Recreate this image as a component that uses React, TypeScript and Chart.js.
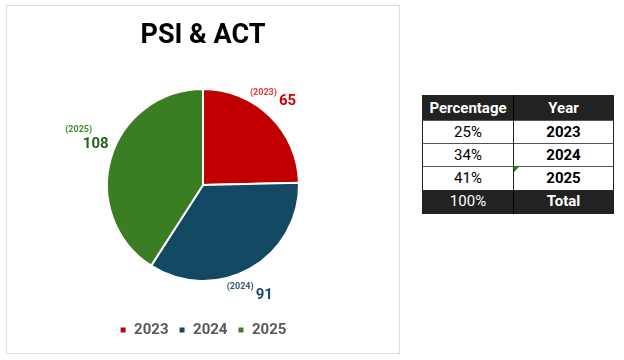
import React, { useEffect, useRef } from "react";
import { Chart, registerables } from "chart.js";

Chart.register(...registerables);

const years = ["2023", "2024", "2025"];
const values = [65, 91, 108];
const percentages = ["25%", "34%", "41%"];
const totalPercent = "100%";
const totalLabel = "Total";
const sliceColors = ["#C00000", "#124862", "#3B7D23"];
const yearLabelColors = ["#E23A3A", "#2E5C78", "#3F8A2A"];
const valueLabelColors = ["#D00000", "#1B4D6A", "#24601C"];

const FONT = "Roboto, 'Liberation Sans', Arial, sans-serif";

const labelPlugin = {
  id: "sliceLabels",
  afterDatasetsDraw(chart: any, _args: any, opts: any) {
    const ctx = chart.ctx;
    const meta = chart.getDatasetMeta(0);
    meta.data.forEach((arc: any, i: number) => {
      const p = arc.getProps(["x", "y", "startAngle", "endAngle", "outerRadius"], true);
      const mid = (p.startAngle + p.endAngle) / 2;
      const d = p.outerRadius + opts.gap;
      const off = opts.offsets[i];
      const ax = p.x + Math.cos(mid) * d + off[0];
      const ay = p.y + Math.sin(mid) * d + off[1];
      const yearTxt = "(" + chart.data.labels[i] + ")";
      const valTxt = String(chart.data.datasets[0].data[i]);
      ctx.save();
      ctx.textBaseline = "middle";
      ctx.font = "bold 9px " + FONT;
      const yw = ctx.measureText(yearTxt).width;
      ctx.font = "bold 15px " + FONT;
      const vw = ctx.measureText(valTxt).width;
      if (opts.layouts[i] === "stacked") {
        ctx.textAlign = "center";
        ctx.font = "bold 9px " + FONT;
        ctx.fillStyle = yearLabelColors[i];
        ctx.fillText(yearTxt, ax - 8, ay - 7);
        ctx.font = "bold 15px " + FONT;
        ctx.fillStyle = valueLabelColors[i];
        ctx.fillText(valTxt, ax + 9, ay + 8);
      } else {
        const w = yw + 2 + vw;
        const x0 = ax - w / 2;
        ctx.textAlign = "left";
        ctx.font = "bold 9px " + FONT;
        ctx.fillStyle = yearLabelColors[i];
        ctx.fillText(yearTxt, x0, ay - 4);
        ctx.font = "bold 15px " + FONT;
        ctx.fillStyle = valueLabelColors[i];
        ctx.fillText(valTxt, x0 + yw + 2, ay + 4);
      }
      ctx.restore();
    });
  },
};

function PieChart() {
  const ref = useRef<HTMLCanvasElement>(null);
  useEffect(() => {
    if (!ref.current) return;
    const chart = new Chart(ref.current, {
      type: "pie",
      data: {
        labels: years,
        datasets: [
          {
            data: values,
            backgroundColor: sliceColors,
            borderColor: "#ffffff",
            borderWidth: 2,
            radius: 96,
          } as any,
        ],
      },
      options: {
        animation: false,
        responsive: false,
        maintainAspectRatio: false,
        layout: { padding: { top: 0, bottom: 5.5, left: 0, right: 0 } },
        plugins: {
          title: {
            display: true,
            text: "PSI & ACT",
            color: "#000000",
            font: { family: FONT, size: 27, weight: "bold", lineHeight: 1.2 },
            padding: { top: 14.5, bottom: 4.5 },
          },
          legend: {
            display: true,
            position: "bottom",
            labels: {
              color: "#595959",
              font: { family: FONT, size: 15, weight: "bold" },
              boxWidth: 7,
              boxHeight: 7,
              padding: 10,
              usePointStyle: false,
            },
          },
          tooltip: { enabled: false },
          sliceLabels: {
            gap: 20,
            offsets: [
              [-11, -5],
              [-10, 5],
              [-5, -16],
            ],
            layouts: ["inline", "inline", "stacked"],
          },
        } as any,
      },
      plugins: [labelPlugin],
    });
    return () => chart.destroy();
  }, []);
  return <canvas ref={ref} width={392} height={347} style={{ display: "block" }} />;
}

const cellBase: React.CSSProperties = {
  fontFamily: FONT,
  fontSize: 15,
  textAlign: "center",
  padding: 0,
  lineHeight: "20px",
};

export default function App() {
  const darkRow: React.CSSProperties = { background: "#222222", color: "#ffffff" };
  return (
    <div style={{ position: "relative", width: 624, height: 360, margin: 0, background: "#fff" }}>
      <style>{"body{margin:0;background:#fff}"}</style>
      <div
        style={{
          position: "absolute",
          left: 6,
          top: 5,
          width: 394,
          height: 349,
          boxSizing: "border-box",
          border: "1px solid #dcdcdc",
          overflow: "hidden",
        }}
      >
        <PieChart />
      </div>
      <table
        style={{
          position: "absolute",
          left: 422,
          top: 95,
          width: 191,
          borderCollapse: "collapse",
          border: "1px solid #222",
          tableLayout: "fixed",
        }}
      >
        <colgroup>
          <col style={{ width: 91 }} />
          <col style={{ width: 100 }} />
        </colgroup>
        <tbody>
          <tr style={{ ...darkRow, height: 25 }}>
            <td style={{ ...cellBase, fontWeight: "bold", borderRight: "1px solid #000" }}>Percentage</td>
            <td style={{ ...cellBase, fontWeight: "bold" }}>Year</td>
          </tr>
          {years.map((y, i) => (
            <tr key={y} style={{ height: 23, background: "#fff", color: "#000" }}>
              <td style={{ ...cellBase, borderTop: "1px solid #555", borderRight: "1px solid #222" }}>
                {percentages[i]}
              </td>
              <td style={{ ...cellBase, fontWeight: "bold", borderTop: "1px solid #555", position: "relative" }}>
                {i === 2 && (
                  <span
                    style={{
                      position: "absolute",
                      left: 0,
                      top: 0,
                      width: 0,
                      height: 0,
                      borderTop: "5px solid #1a8a1a",
                      borderRight: "5px solid transparent",
                    }}
                  />
                )}
                {y}
              </td>
            </tr>
          ))}
          <tr style={{ ...darkRow, height: 24 }}>
            <td style={{ ...cellBase, borderRight: "1px solid #000" }}>{totalPercent}</td>
            <td style={{ ...cellBase, fontWeight: "bold" }}>{totalLabel}</td>
          </tr>
        </tbody>
      </table>
    </div>
  );
}
